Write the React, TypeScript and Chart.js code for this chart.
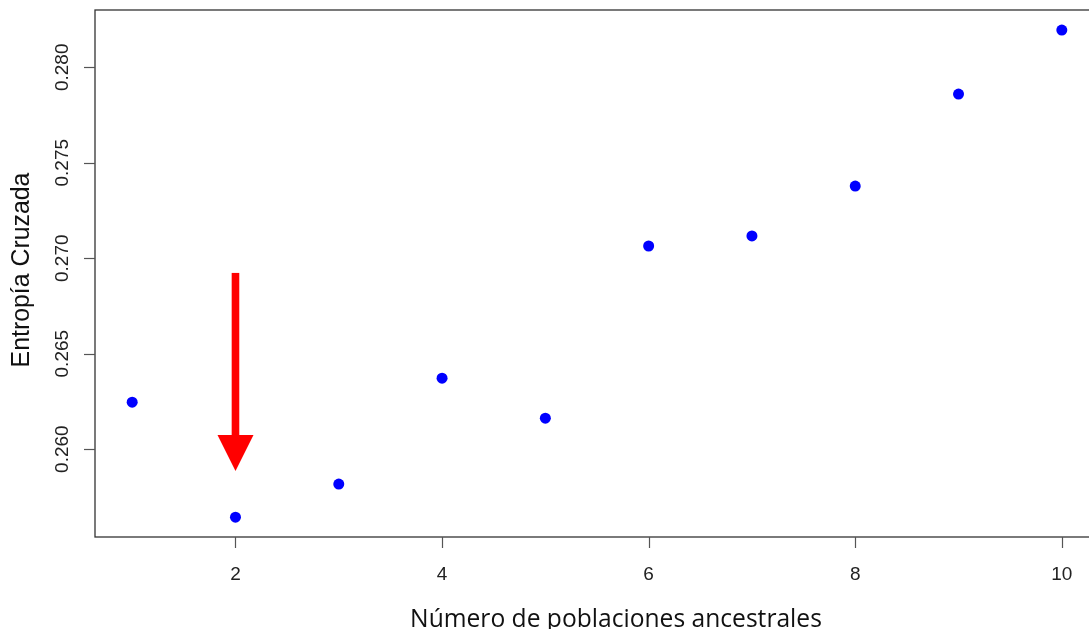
import React, { useEffect, useRef } from "react";
import { Chart, registerables } from "chart.js";

Chart.register(...registerables);

const numPoblaciones = [1, 2, 3, 4, 5, 6, 7, 8, 9, 10];
const entropiaCruzada = [0.26246, 0.25644, 0.25817, 0.26372, 0.26162, 0.27064, 0.27117, 0.27378, 0.2786, 0.28195];
const xTickValues = [2, 4, 6, 8, 10];
const yTickValues = [0.26, 0.265, 0.27, 0.275, 0.28];
const xTitle = "Número de poblaciones ancestrales";
const yTitle = "Entropía Cruzada";
// arrow annotation (data coordinates)
const arrowX = 2;
const arrowFromY = 0.26923;
const arrowToY = 0.25886;

export default function App() {
  const ref = useRef<HTMLCanvasElement>(null);

  useEffect(() => {
    const canvas = ref.current!;
    const tickFont = "19px 'Liberation Sans', Arial, sans-serif";

    const overlay = {
      id: "overlay",
      afterDraw(chart: any) {
        const ctx = chart.ctx as CanvasRenderingContext2D;
        const ca = chart.chartArea;
        const xs = chart.scales.x;
        const ys = chart.scales.y;
        ctx.save();
        // box
        ctx.strokeStyle = "#333";
        ctx.lineWidth = 1.3;
        ctx.strokeRect(ca.left, ca.top, ca.right - ca.left, ca.bottom - ca.top);
        // tick marks
        ctx.strokeStyle = "#555";
        ctx.lineWidth = 1.2;
        xTickValues.forEach((v) => {
          const px = Math.round(xs.getPixelForValue(v)) + 0.5;
          ctx.beginPath();
          ctx.moveTo(px, ca.bottom);
          ctx.lineTo(px, ca.bottom + 11);
          ctx.stroke();
        });
        yTickValues.forEach((v) => {
          const py = Math.round(ys.getPixelForValue(v)) + 0.5;
          ctx.beginPath();
          ctx.moveTo(ca.left, py);
          ctx.lineTo(ca.left - 11, py);
          ctx.stroke();
        });
        // tick labels
        ctx.fillStyle = "#222";
        ctx.font = tickFont;
        ctx.textAlign = "center";
        ctx.textBaseline = "alphabetic";
        xTickValues.forEach((v) => {
          ctx.fillText(String(v), xs.getPixelForValue(v), 580);
        });
        yTickValues.forEach((v) => {
          const py = ys.getPixelForValue(v);
          ctx.save();
          ctx.translate(68, py);
          ctx.rotate(-Math.PI / 2);
          ctx.fillText(v.toFixed(3), 0, 0);
          ctx.restore();
        });
        // x title
        ctx.fillStyle = "#111";
        ctx.font = "100px 'Open Sans', 'Noto Sans', sans-serif";
        const wX = ctx.measureText(xTitle).width;
        ctx.font = `${(100 * 412) / wX}px 'Open Sans', 'Noto Sans', sans-serif`;
        ctx.fillText(xTitle, 616, 627);
        // y title
        ctx.font = "100px 'Liberation Sans', Arial, sans-serif";
        const wY = ctx.measureText(yTitle).width;
        ctx.font = `${(100 * 195) / wY}px 'Liberation Sans', Arial, sans-serif`;
        ctx.save();
        ctx.translate(29, 270);
        ctx.rotate(-Math.PI / 2);
        ctx.fillText(yTitle, 0, 0);
        ctx.restore();
        // arrow
        const ax = xs.getPixelForValue(arrowX);
        const y0 = ys.getPixelForValue(arrowFromY);
        const y1 = ys.getPixelForValue(arrowToY);
        const headLen = 36;
        ctx.fillStyle = "#ff0000";
        ctx.fillRect(ax - 3.8, y0, 7.6, y1 - headLen - y0 + 1);
        ctx.beginPath();
        ctx.moveTo(ax - 18, y1 - headLen);
        ctx.lineTo(ax + 18, y1 - headLen);
        ctx.lineTo(ax, y1);
        ctx.closePath();
        ctx.fill();
        ctx.restore();
      },
    };

    const chart = new Chart(canvas, {
      type: "scatter",
      data: {
        datasets: [
          {
            data: numPoblaciones.map((x, i) => ({ x, y: entropiaCruzada[i] })),
            backgroundColor: "#0000ff",
            borderWidth: 0,
            pointRadius: 5.5,
          },
        ],
      },
      options: {
        animation: false,
        responsive: false,
        layout: { padding: { top: 10, right: 11, left: 0, bottom: 0 } },
        plugins: { legend: { display: false }, tooltip: { enabled: false } },
        scales: {
          x: {
            type: "linear",
            min: 0.64,
            max: 10.36,
            grid: { display: false },
            border: { display: false },
            ticks: { display: false, includeBounds: false },
            afterFit: (s: any) => {
              s.height = 92;
            },
          },
          y: {
            type: "linear",
            min: 0.2554,
            max: 0.283,
            grid: { display: false },
            border: { display: false },
            ticks: { display: false, includeBounds: false },
            afterFit: (s: any) => {
              s.width = 95;
            },
          },
        },
      },
      plugins: [overlay],
    });
    return () => chart.destroy();
  }, []);

  return (
    <div
      style={{
        position: "fixed",
        left: 0,
        top: 0,
        width: 1089,
        height: 629,
        overflow: "hidden",
        background: "#fff",
      }}
    >
      <canvas ref={ref} width={1110} height={629} style={{ display: "block" }} />
    </div>
  );
}
